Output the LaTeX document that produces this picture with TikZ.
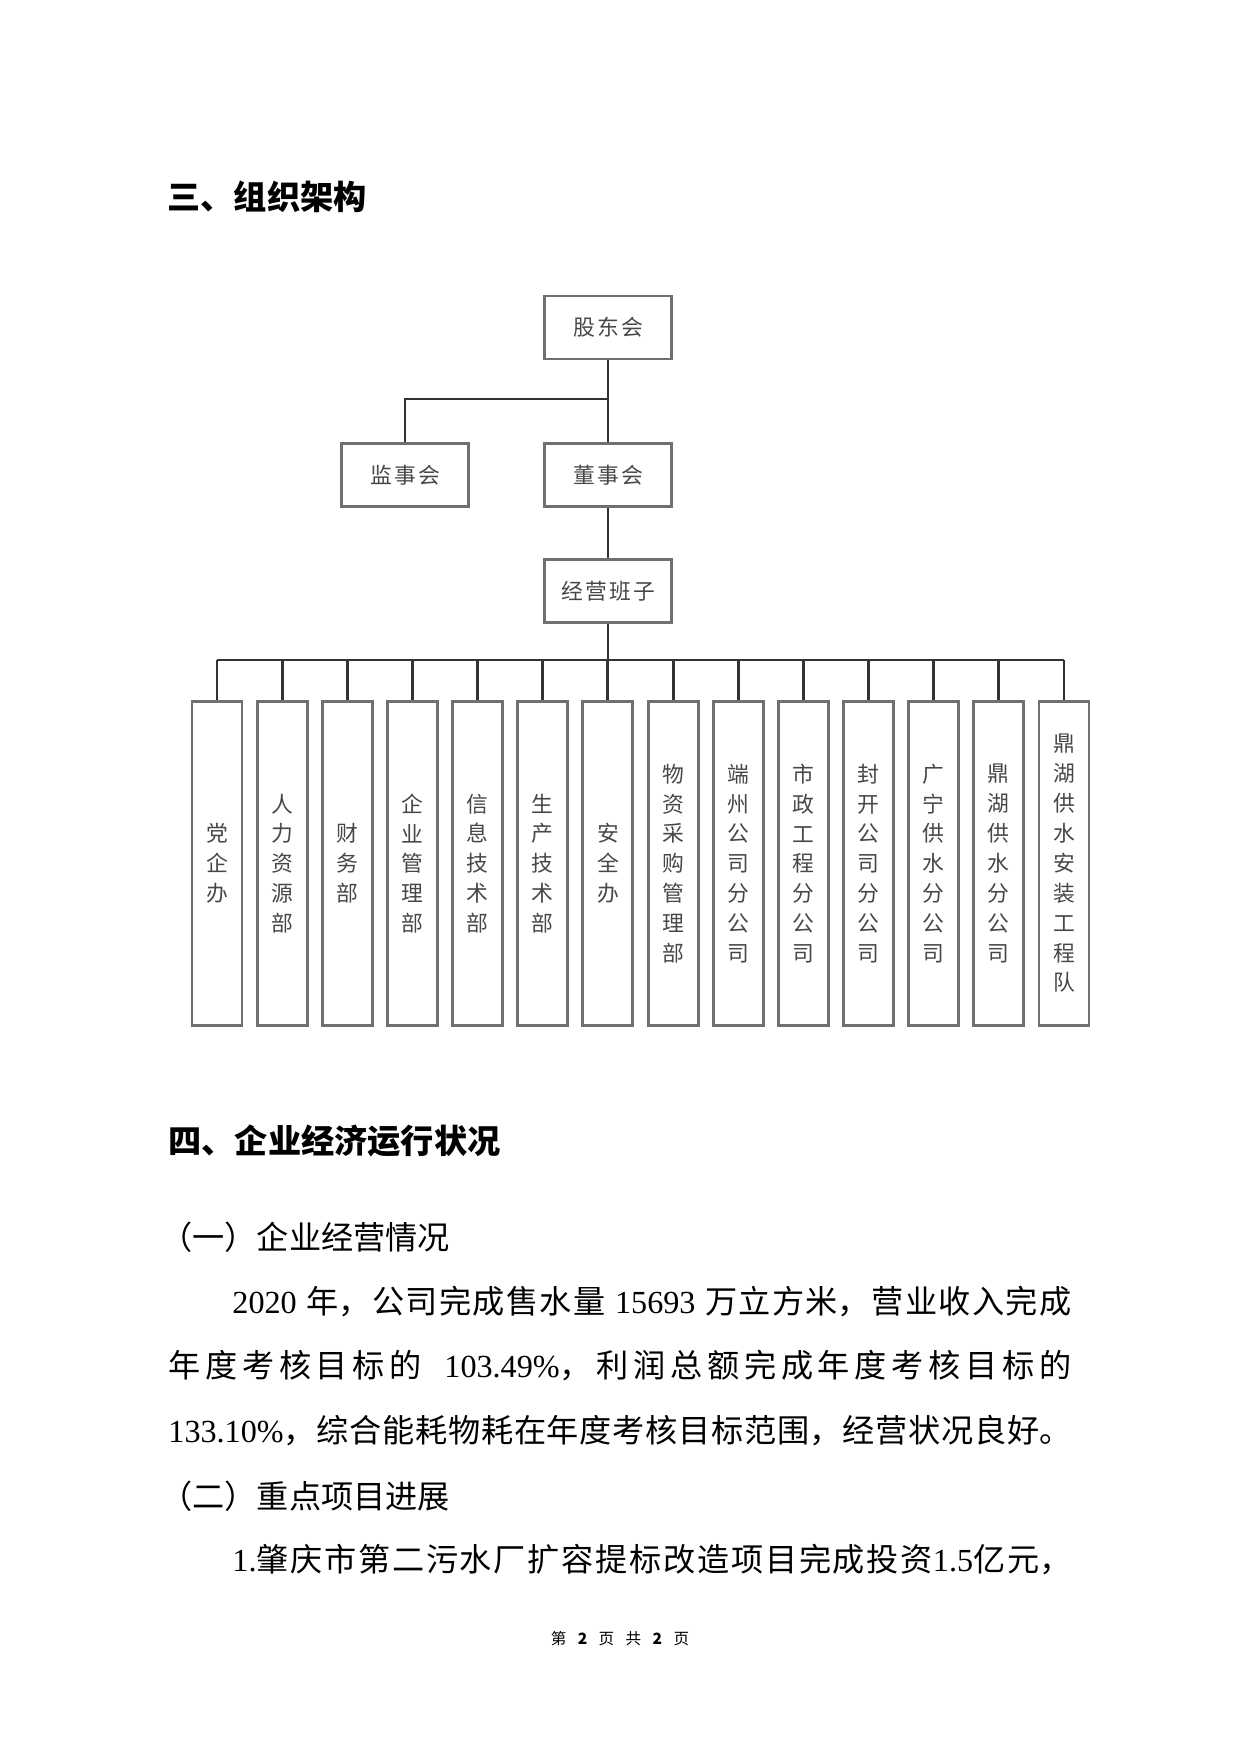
\documentclass[tikz,border=0pt]{standalone}
\usepackage{fontspec}
\setmainfont{Noto Sans CJK SC}
\newfontfamily\numfont{Liberation Serif}
\XeTeXlinebreaklocale "zh"
\XeTeXlinebreakskip=0pt plus 1fil
\newdimen\pxu \pxu=0.16935mm

\begin{document}
\begin{tikzpicture}[
    x=0.16935mm, y=-0.16935mm,
    box/.style={draw=black!56, line width=1.4pt, minimum width=127\pxu, minimum height=63\pxu, inner sep=0pt, text=black!72, font=\fontsize{10.5pt}{14.4pt}\selectfont\addfontfeature{LetterSpace=10}},
    dept/.style={draw=black!56, line width=1.4pt, minimum width=50\pxu, minimum height=324\pxu, inner sep=0pt, align=center, text=black!72, font=\fontsize{10.5pt}{14.4pt}\selectfont},
    link/.style={draw=black!80, line width=1.4pt},
    bus/.style={draw=black!80, line width=0.8pt},
    head/.style={anchor=west, inner sep=0pt, font=\fontsize{16pt}{20pt}\selectfont\bfseries},
    body/.style={anchor=west, inner sep=0pt, font=\fontsize{15.5pt}{20pt}\selectfont},
    jline/.style={body, text width=#1, align=justify, execute at begin node={\parfillskip=0pt\relax}},
    foot/.style={inner sep=0pt, font=\fontsize{7.5pt}{9pt}\selectfont}
  ]
    \useasboundingbox (0,0) rectangle (1240,1754);

    \node[head] (h3) at (167,197) {三、组织架构};

    \node[box] (gd) at (608,327.5) {股东会};
    \node[box] (js) at (405,475) {监事会};
    \node[box] (ds) at (608,475) {董事会};
    \node[box] (jy) at (608,591) {经营班子};
    \coordinate (br) at (608,399);
    \coordinate (bus) at (608,660);

    \foreach \name [count=\i] in {{党\\企\\办},{人\\力\\资\\源\\部},{财\\务\\部},{企\\业\\管\\理\\部},{信\\息\\技\\术\\部},{生\\产\\技\\术\\部},{安\\全\\办},{物\\资\\采\\购\\管\\理\\部},{端\\州\\公\\司\\分\\公\\司},{市\\政\\工\\程\\分\\公\\司},{封\\开\\公\\司\\分\\公\\司},{广\\宁\\供\\水\\分\\公\\司},{鼎\\湖\\供\\水\\分\\公\\司},{鼎\\湖\\供\\水\\安\\装\\工\\程\\队}}
      \node[dept] (d\i) at ({217+65.15*(\i-1)},863.5) {\name};

    \draw[link] (gd.south) -- (ds.north);
    \draw[bus] (br) -| (js.north);
    \draw[link] (ds.south) -- (jy.north);
    \draw[link] (jy.south) -- (bus);
    \draw[bus] (d1.north |- bus) -- (d14.north |- bus);
    \foreach \i in {1,...,14}
      \draw[link] (d\i.north |- bus) -- (d\i.north);

    \node[head] (h4) at (168,1141) {四、企业经济运行状况};
    \node[body] (s1) at (160,1237) {（一）企业经营情况};
    \node[jline=839\pxu] (p1) at (232,1302) {{\numfont 2020}\hspace{0.3em}年，公司完成售水量\hspace{0.3em}{\numfont 15693}\hspace{0.3em}万立方米，营业收入完成};
    \node[jline=903\pxu] (p2) at (168,1366) {年度考核目标的\hspace{0.7em}{\numfont 103.49\%}，利润总额完成年度考核目标的};
    \node[jline=903\pxu] (p3) at (168,1431) {{\numfont 133.10\%}，综合能耗物耗在年度考核目标范围，经营状况良好。};
    \node[body] (s2) at (160,1496) {（二）重点项目进展};
    \node[jline=839\pxu] (p4) at (232,1560) {{\numfont 1.}肇庆市第二污水厂扩容提标改造项目完成投资{\numfont 1.5}亿元，};

    \node[foot] (ft) at (620,1639) {第\hspace{5.5pt}\textbf{2}\hspace{5.5pt}页\hspace{5.5pt}共\hspace{5.5pt}\textbf{2}\hspace{5.5pt}页};
  \end{tikzpicture}
\end{document}
